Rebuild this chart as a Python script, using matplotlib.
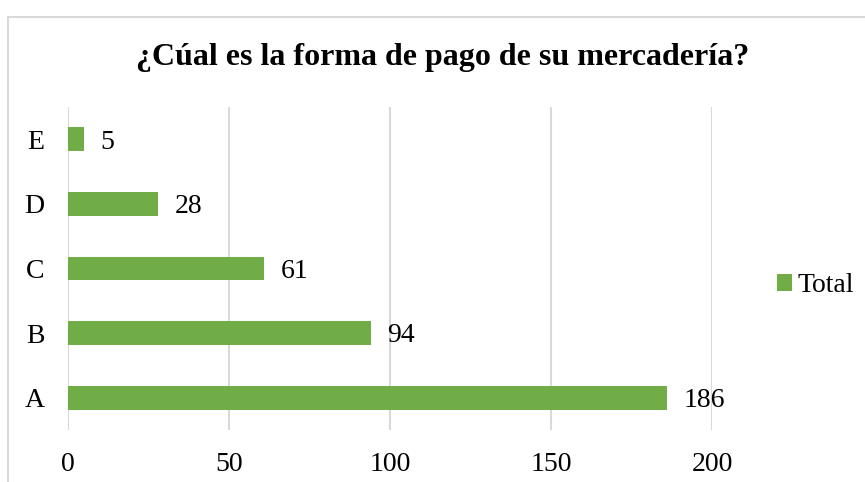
import matplotlib.pyplot as plt
from matplotlib.patches import Rectangle

plt.rcParams['font.family'] = ['Liberation Serif', 'DejaVu Serif']

categories = ["A", "B", "C", "D", "E"]
totals = [186, 94, 61, 28, 5]
xticks = [0, 50, 100, 150, 200]

green = "#70AD47"
grid = "#D9D9D9"

fig = plt.figure(figsize=(8.65, 4.82), dpi=100)
ax = fig.add_axes([68/865, 1 - 430/482, (712 - 68)/865, (430 - 107)/482])

bars = ax.barh(categories, totals, height=0.37, color=green, label="Total", zorder=3)
for b, v in zip(bars, totals):
  ax.annotate(str(v), (b.get_width(), b.get_y() + b.get_height()/2),
              xytext=(12, -2), textcoords="offset points",
              ha="left", va="center", fontsize=20)

ax.set_xlim(0, 200)
ax.set_ylim(-0.5, 4.5)
ax.set_xticks(xticks)
ax.xaxis.grid(True, color=grid, lw=1.5, zorder=0)
ax.tick_params(axis="both", length=0, labelsize=20)
ax.tick_params(axis="x", pad=16)
ax.tick_params(axis="y", pad=17)
for s in ax.spines.values():
  s.set_visible(False)

fig.text(443/865, 1 - 58/482, "¿Cúal es la forma de pago de su mercadería?",
         ha="center", va="center", fontsize=23, fontweight="bold")

ax.legend(loc="center left", bbox_to_anchor=(752/865, 1 - 286/482),
          bbox_transform=fig.transFigure, frameon=False, fontsize=20,
          handlelength=0.55, handleheight=0.55, handletextpad=0.2)

fig.add_artist(Rectangle((8/865, -0.1), 2, (482 - 17)/482 + 0.1,
                         transform=fig.transFigure, fill=False, ec=grid, lw=1.5))

fig.savefig("out.png", dpi=100)
